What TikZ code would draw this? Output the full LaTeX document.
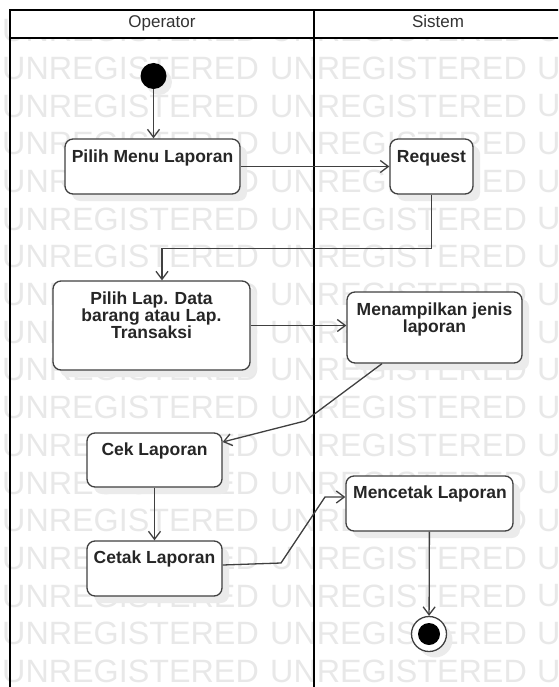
\documentclass[tikz,border=0pt]{standalone}
\usepackage{fontspec}
\setmainfont{Liberation Sans}
\usetikzlibrary{arrows.meta}
\definecolor{wm}{gray}{0.91}
\definecolor{shd}{gray}{0.92}
\definecolor{ln}{gray}{0.25}
\begin{document}
\begin{tikzpicture}[x=1pt,y=-1pt,
  actbox/.style={draw=ln, line width=1.3pt, rounded corners=8pt, fill=white, inner sep=0pt,
    preaction={fill=shd, transform canvas={xshift=7pt,yshift=-7pt}}},
  lbl/.style={font=\bfseries\fontsize{17.5}{17}\selectfont, align=center, inner sep=0pt, text=black!85},
  hdr/.style={font=\fontsize{17}{17}\selectfont, inner sep=0pt, text=black!80, anchor=base},
  conn/.style={draw=ln, line width=1.3pt, -{Straight Barb[length=8pt,width=12pt]}},
  wmtext/.style={font=\fontsize{32.3}{32}\selectfont, text=wm, inner sep=0pt, anchor=west},
  lane/.style={line width=2.5pt, draw=black}]
\useasboundingbox (0,0) rectangle (558,687);
\clip (0,0) rectangle (558,687);
% watermark
\foreach \k in {0,...,17}{
  \pgfmathsetmacro\yy{30.5+37.7*\k}
  \node[wmtext] (wa\k) at (2,\yy) {UNREGISTERED};
  \node[wmtext] (wb\k) at (270,\yy) {UNREGISTERED};
  \node[wmtext] (wc\k) at (537,\yy) {U};
}
% swimlanes
\fill[white] (10,10) rectangle (562,38);
\draw[lane] (10,10) rectangle (562,38);
\draw[lane] (10,10) -- (10,700);
\draw[lane] (314,10) -- (314,700);
\node[hdr] (hop) at (162,28) {Operator};
\node[hdr] (hsi) at (438,28) {Sistem};
% start
\fill[shd] (159,82) circle (13pt);
\node[circle, fill=black, minimum size=26pt, inner sep=0pt] (start) at (153.5,76) {};
% boxes
\node[actbox, minimum width=175pt, minimum height=55pt] (b1) at (152.5,166.5) {};
\node[actbox, minimum width=83pt, minimum height=55pt] (b2) at (431.5,166.5) {};
\node[actbox, minimum width=197pt, minimum height=89pt] (b3) at (151.5,325.5) {};
\node[actbox, minimum width=175pt, minimum height=71pt] (b4) at (434.5,327.5) {};
\node[actbox, minimum width=135pt, minimum height=54pt] (b5) at (154.5,460) {};
\node[actbox, minimum width=135pt, minimum height=55pt] (b6) at (154.5,568.5) {};
\node[actbox, minimum width=167pt, minimum height=55pt] (b7) at (429.5,503.5) {};
% labels
\node[lbl, anchor=base] (t1) at (152.5,163) {Pilih Menu Laporan};
\node[lbl, anchor=base] (t2) at (431.5,163) {Request};
\node[lbl, anchor=north] (t3) at (151.5,291.5) {Pilih Lap. Data\\barang atau Lap.\\Transaksi};
\node[lbl, anchor=north] (t4) at (434.5,302.5) {Menampilkan jenis\\laporan};
\node[lbl, anchor=base] (t5) at (154.5,455) {Cek Laporan};
\node[lbl, anchor=base] (t6) at (154.5,563) {Cetak Laporan};
\node[lbl, anchor=base] (t7) at (430,498) {Mencetak Laporan};
% end
\fill[shd] (435,640) circle (17.5pt);
\node[circle, draw=ln, fill=white, line width=1.3pt, minimum size=35pt, inner sep=0pt] (end) at (429,634) {};
\fill[black] (end.center) circle (11pt);
% bends
\coordinate (k1) at (305,421);
\coordinate (k2) at (281,563);
\coordinate (k3) at (325,497);
% connectors
\draw[conn] (start) -- (start |- b1.north);
\draw[conn] (b1) -- (b2);
\draw[conn] (b2.south) -- ++(0,54) -| ([xshift=10.5pt]b3.north);
\draw[conn] (b3.east) -- (b3.east -| b4.west);
\draw[conn] ([xshift=-52.5pt]b4.south) -- (k1) -- ([yshift=18pt]b5.east);
\draw[conn] (b5) -- (b6);
\draw[conn] ([yshift=3.5pt]b6.east) -- (k2) -- (k3) -- ([yshift=6.5pt]b7.west);
\draw[conn] (b7) -- (end);
\end{tikzpicture}
\end{document}
